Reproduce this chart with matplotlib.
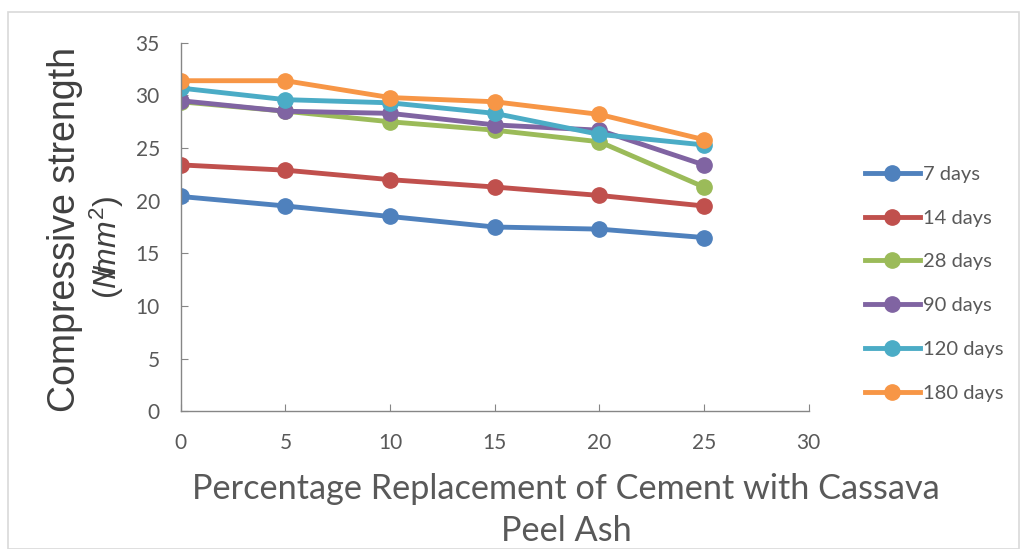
import numpy as np
import matplotlib
matplotlib.use('Agg')
import matplotlib.pyplot as plt
from matplotlib.patches import Rectangle

plt.rcParams['mathtext.fontset'] = 'custom'
plt.rcParams['mathtext.it'] = 'Liberation Sans:italic'
plt.rcParams['mathtext.rm'] = 'Liberation Sans'

# percentage replacement of cement with cassava peel ash
replacement = [0, 5, 10, 15, 20, 25]

# compressive strength (N/mm2) per curing age
days_7 = [20.4, 19.5, 18.5, 17.5, 17.3, 16.5]
days_14 = [23.4, 22.9, 22.0, 21.3, 20.5, 19.5]
days_28 = [29.4, 28.5, 27.5, 26.7, 25.6, 21.3]
days_90 = [29.5, 28.5, 28.3, 27.2, 26.7, 23.4]
days_120 = [30.7, 29.6, 29.3, 28.3, 26.3, 25.3]
days_180 = [31.4, 31.4, 29.8, 29.4, 28.2, 25.8]

labels = ['7 days', '14 days', '28 days', '90 days', '120 days', '180 days']
series = [days_7, days_14, days_28, days_90, days_120, days_180]
colors = ['#4F81BD', '#C0504D', '#9BBB59', '#8064A2', '#4BACC6', '#F79646']

fig = plt.figure(figsize=(10.21, 5.49), dpi=100)
ax = fig.add_axes([0.177, 0.251, 0.615, 0.671])

for vals, lab, col in zip(series, labels, colors):
    ax.plot(replacement, vals, '-o', color=col, lw=3.5, ms=11, label=lab)

ax.set_xlim(0, 30)
ax.set_ylim(0, 35)
ax.set_xticks(np.arange(0, 31, 5))
ax.set_yticks(np.arange(0, 36, 5))
for s in ['top', 'right']:
    ax.spines[s].set_visible(False)
for s in ['left', 'bottom']:
    ax.spines[s].set_color('#868686')
    ax.spines[s].set_linewidth(1)
ax.tick_params(direction='in', length=5, color='#868686', labelcolor='#595959',
               labelsize=15)
ax.tick_params(axis='x', pad=16)
ax.tick_params(axis='y', pad=15)
for t in ax.get_xticklabels() + ax.get_yticklabels():
    t.set_family('Lato')

# y axis title, two lines placed separately
fig.text(65 / 1021, 1 - 230 / 549, 'Compressive strength', rotation=90,
         fontsize=27, family='Liberation Sans', color='#404040',
         ha='center', va='center')
fig.text(107 / 1021, 1 - 247 / 549, r'($N\!\!\!/\!mm^2$)', rotation=90,
         fontsize=23, family='Liberation Sans', color='#404040',
         ha='center', va='center')

fig.text(566 / 1021, 1 - 510 / 549,
         'Percentage Replacement of Cement with Cassava\nPeel Ash',
         fontsize=24.7, family='Lato', color='#595959', ha='center',
         va='center', linespacing=1.35)

leg = ax.legend(loc='center left', bbox_to_anchor=(0.829, 0.483),
                bbox_transform=fig.transFigure, frameon=False, fontsize=14.5,
                handlelength=2.75, handletextpad=0.15, labelspacing=1.33,
                markerscale=1.0)
for t in leg.get_texts():
    t.set_color('#595959')
    t.set_family('Lato')

fig.patches.append(Rectangle((8 / 1021, 0), 1 - 10 / 1021, 1 - 12 / 549,
                             transform=fig.transFigure, fill=False,
                             edgecolor='#D9D9D9', lw=1.2))

fig.savefig('out.png', dpi=100)
